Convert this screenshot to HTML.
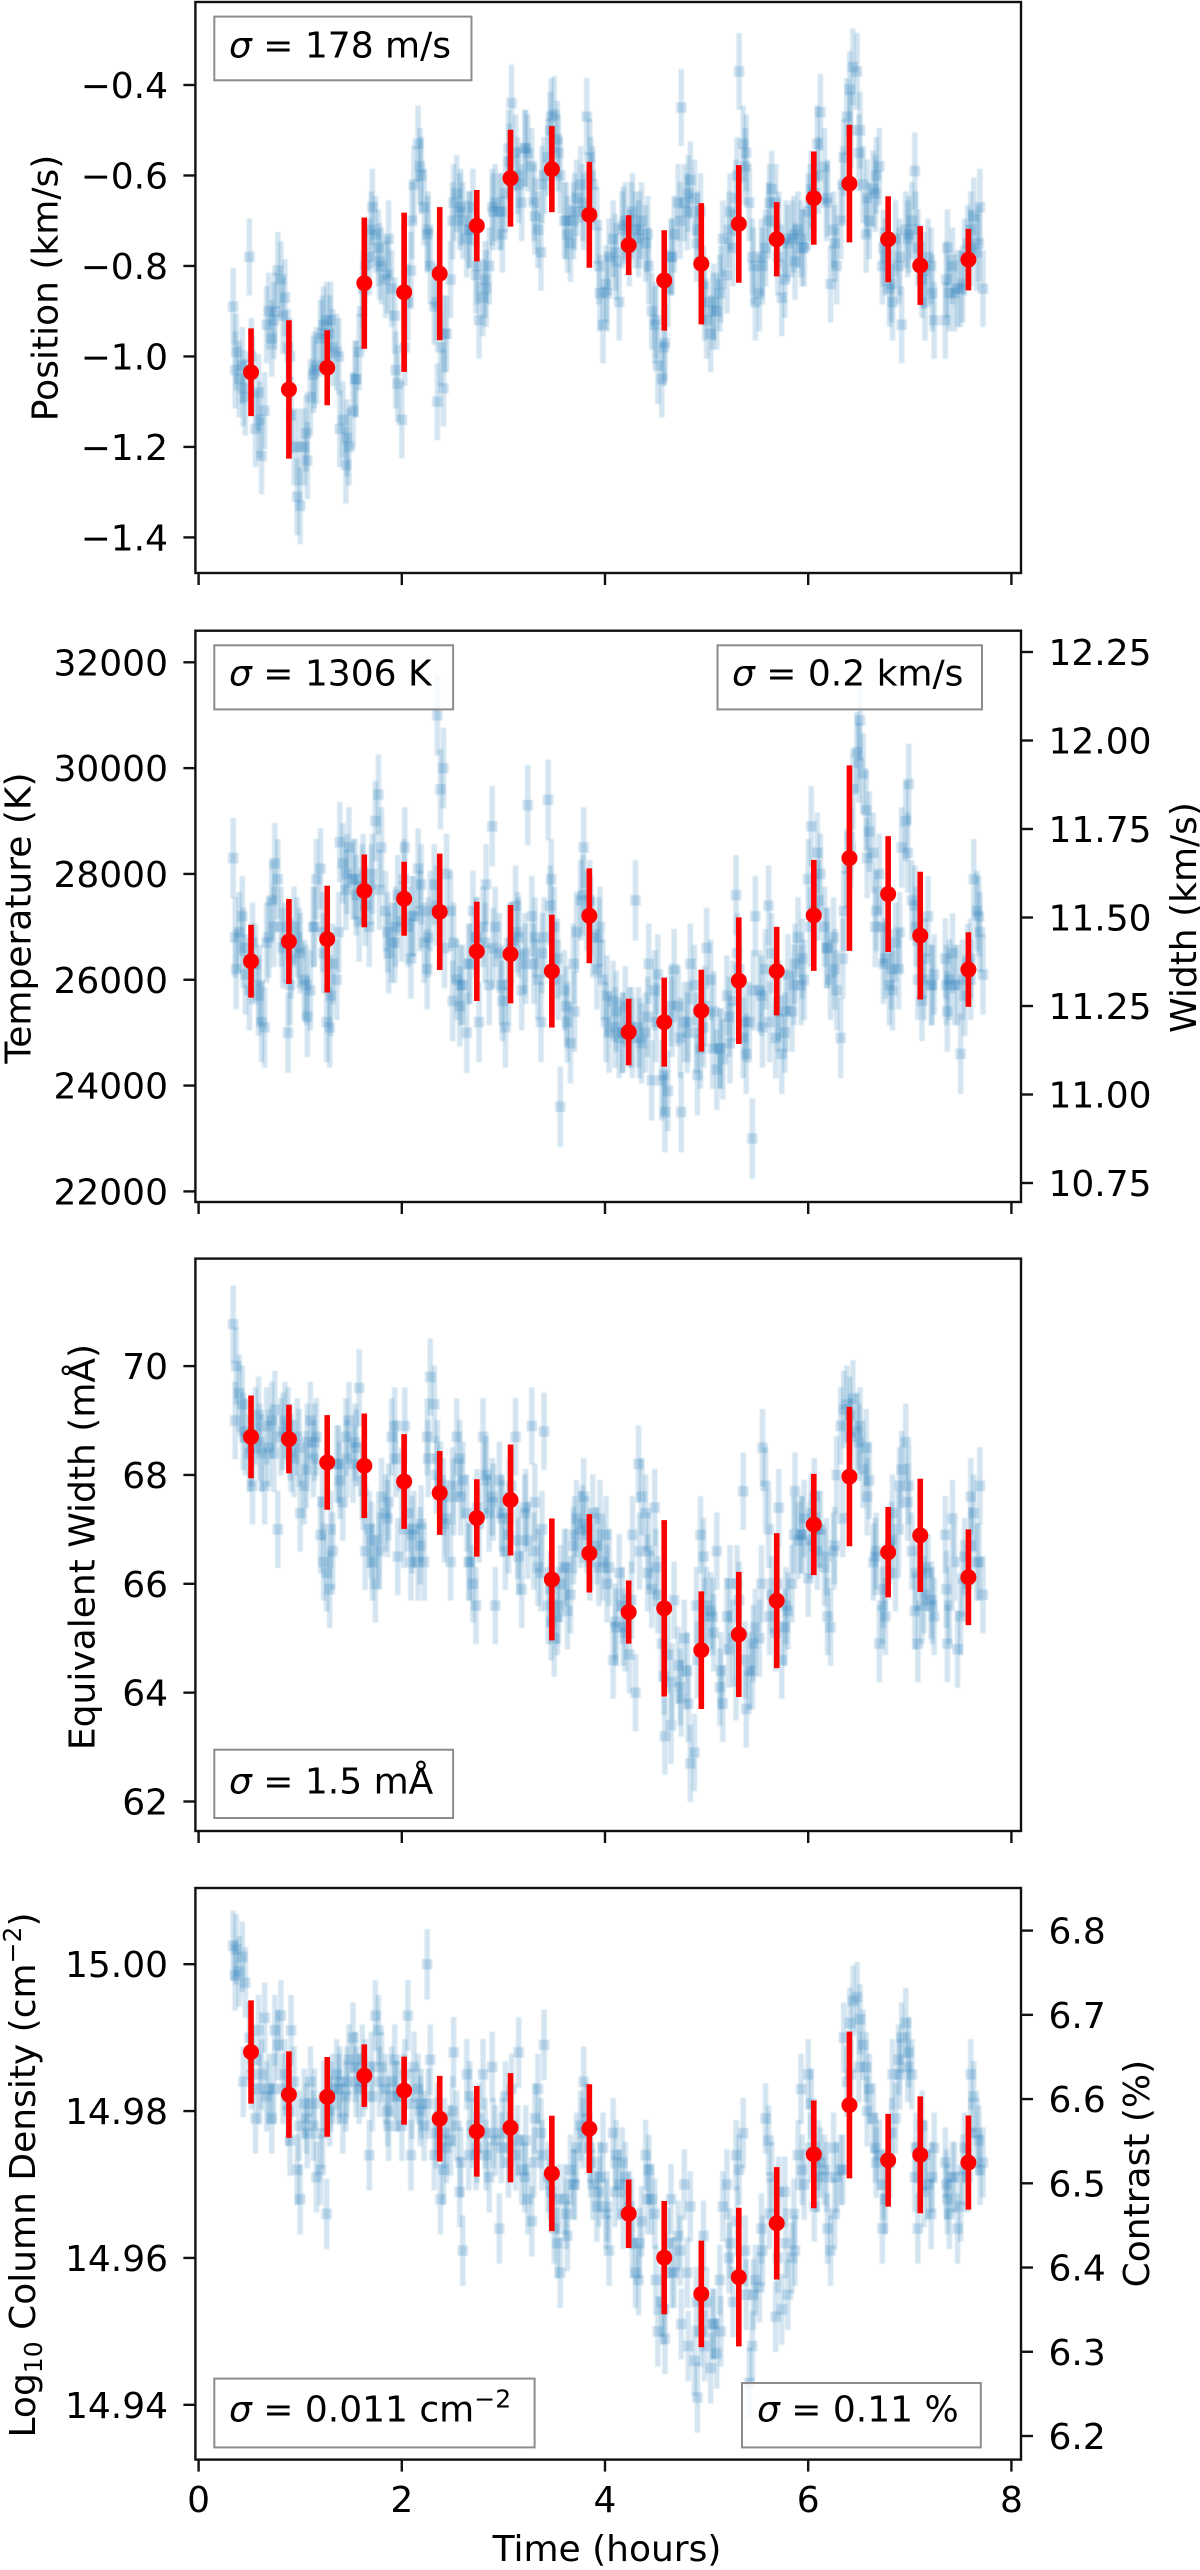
<!DOCTYPE html>
<html lang="en">
<head>
<meta charset="utf-8">
<title>Time series of line position, temperature, width, equivalent width, column density and contrast</title>
<style>
html,body{margin:0;padding:0;background:#fff;}
svg{display:block;font-family:"DejaVu Sans","Liberation Sans",sans-serif;fill:#000;}
text{font-size:36px;}
.legend-box{fill:rgba(255,255,255,.8);stroke:#8c8c8c;stroke-width:2;}
.sig{font-style:italic;}
.frame{fill:none;stroke:#111;stroke-width:2.4;}
</style>
</head>
<body>
<svg id="figure" width="1200" height="2570" viewBox="0 0 1200 2570" xmlns="http://www.w3.org/2000/svg">
<defs><filter id="soft" x="-5%" y="-5%" width="110%" height="110%"><feGaussianBlur stdDeviation="0.6"/></filter></defs>
<rect width="1200" height="2570" fill="#fff"/>

<g id="panel-position"></g>
<g id="panel-temperature"></g>
<g id="panel-ew"></g>
<g id="panel-density"></g>

<text transform="translate(57.5 288) rotate(-90)" text-anchor="middle">Position (km/s)</text>
<text transform="translate(30.6 918) rotate(-90)" text-anchor="middle">Temperature (K)</text>
<text transform="translate(1196 917.5) rotate(-90)" text-anchor="middle">Width (km/s)</text>
<text transform="translate(94.5 1547) rotate(-90)" text-anchor="middle">Equivalent Width (mÅ)</text>
<text transform="translate(35.2 2175) rotate(-90)" text-anchor="middle">Log<tspan dy="7" font-size="25">10</tspan><tspan dy="-7"> Column Density (cm</tspan><tspan dy="-14" font-size="25">−2</tspan><tspan dy="14">)</tspan></text>
<text transform="translate(1149 2173.6) rotate(-90)" text-anchor="middle">Contrast (%)</text>
<text x="607" y="2561" text-anchor="middle">Time (hours)</text>

<g id="legends">
<g><rect class="legend-box" x="214.3" y="16.6" width="257.2" height="63.7"/><text x="229" y="57.3"><tspan class="sig">σ</tspan> = 178 m/s</text></g>
<g><rect class="legend-box" x="214.3" y="645.3" width="238.8" height="64.1"/><text x="229" y="685.5"><tspan class="sig">σ</tspan> = 1306 K</text></g>
<g><rect class="legend-box" x="717.5" y="645.3" width="264.5" height="64.1"/><text x="732" y="685.5"><tspan class="sig">σ</tspan> = 0.2 km/s</text></g>
<g><rect class="legend-box" x="214.3" y="1749.7" width="238.8" height="68.3"/><text x="229" y="1793.6"><tspan class="sig">σ</tspan> = 1.5 mÅ</text></g>
<g><rect class="legend-box" x="214.3" y="2378.6" width="320.3" height="68.8"/><text x="229" y="2421.6"><tspan class="sig">σ</tspan> = 0.011 cm<tspan dy="-14" font-size="25">−2</tspan></text></g>
<g><rect class="legend-box" x="742" y="2383" width="238.8" height="64.4"/><text x="757" y="2421.6"><tspan class="sig">σ</tspan> = 0.11 %</text></g>
</g>
</svg>

<script>
const times = [
.34,.37,.40,.43,.46,.50,.53,.56,.59,.62,
.65,.69,.72,.75,.78,.81,.85,.88,.91,.94,
.97,1.00,1.04,1.07,1.10,1.13,1.16,1.20,1.23,1.26,
1.29,1.32,1.36,1.39,1.42,1.45,1.48,1.52,1.55,1.58,
1.61,1.64,1.68,1.71,1.74,1.77,1.80,1.84,1.87,1.90,
1.93,1.96,2.00,2.03,2.06,2.09,2.12,2.16,2.19,2.22,
2.25,2.28,2.32,2.35,2.38,2.41,2.44,2.48,2.51,2.54,
2.57,2.60,2.64,2.67,2.70,2.73,2.76,2.80,2.83,2.86,
2.89,2.92,2.96,2.99,3.02,3.05,3.08,3.12,3.15,3.18,
3.21,3.24,3.28,3.31,3.34,3.37,3.40,3.44,3.47,3.50,
3.53,3.56,3.60,3.63,3.66,3.69,3.72,3.76,3.79,3.82,
3.85,3.88,3.92,3.95,3.98,4.01,4.04,4.08,4.11,4.14,
4.17,4.20,4.24,4.27,4.30,4.33,4.36,4.40,4.43,4.46,
4.49,4.52,4.56,4.59,4.62,4.65,4.68,4.72,4.75,4.78,
4.81,4.84,4.88,4.91,4.94,4.97,5.00,5.04,5.07,5.10,
5.13,5.16,5.20,5.23,5.26,5.29,5.32,5.36,5.39,5.42,
5.45,5.48,5.52,5.55,5.58,5.61,5.64,5.68,5.71,5.74,
5.77,5.80,5.84,5.87,5.90,5.93,5.96,6.00,6.03,6.06,
6.09,6.12,6.16,6.19,6.22,6.25,6.28,6.32,6.35,6.38,
6.41,6.44,6.48,6.51,6.54,6.57,6.60,6.64,6.67,6.70,
6.73,6.76,6.80,6.83,6.86,6.89,6.92,6.96,6.99,7.02,
7.05,7.08,7.12,7.15,7.18,7.21,7.24,7.35,7.37,7.39,
7.42,7.47,7.50,7.54,7.57,7.60,7.63,7.66,7.69,7.72];

const positionValues = [
-0.89,-0.99,-1.05,-1.02,-1.09,-0.78,-1.04,-1.16,-1.08,-1.22,
-1.12,-0.90,-0.96,-0.90,-0.81,-0.83,-0.87,-0.98,-1.13,-1.20,
-1.31,-1.33,-1.20,-1.23,-1.09,-1.04,-1.02,-0.96,-0.93,-0.92,
-0.95,-0.98,-0.99,-1.16,-1.14,-1.24,-1.20,-1.12,-1.05,-0.99,
-0.90,-0.80,-0.78,-0.67,-0.73,-0.76,-0.80,-0.83,-0.74,-0.85,
-0.91,-1.06,-1.14,-0.98,-0.88,-0.81,-0.62,-0.53,-0.60,-0.67,
-0.73,-0.80,-0.89,-1.10,-0.98,-1.07,-0.95,-0.83,-0.66,-0.64,
-0.68,-0.70,-0.74,-0.72,-0.67,-0.82,-0.92,-0.87,-0.85,-0.80,
-0.67,-0.66,-0.68,-0.73,-0.64,-0.54,-0.44,-0.55,-0.62,-0.66,
-0.54,-0.55,-0.58,-0.69,-0.72,-0.77,-0.60,-0.56,-0.47,-0.465,
-0.52,-0.60,-0.70,-0.73,-0.75,-0.70,-0.65,-0.62,-0.68,-0.47,
-0.56,-0.62,-0.71,-0.86,-0.93,-0.84,-0.78,-0.74,-0.79,-0.88,
-0.72,-0.70,-0.76,-0.68,-0.72,-0.74,-0.70,-0.75,-0.80,-0.90,
-0.93,-1.02,-1.05,-0.97,-0.85,-0.78,-0.73,-0.66,-0.45,-0.66,
-0.68,-0.61,-0.65,-0.72,-0.68,-0.84,-0.92,-0.95,-0.88,-0.90,
-0.86,-0.74,-0.82,-0.68,-0.76,-0.65,-0.37,-0.53,-0.55,-0.66,
-0.78,-0.88,-0.86,-0.80,-0.76,-0.70,-0.63,-0.66,-0.72,-0.87,
-0.83,-0.75,-0.74,-0.79,-0.72,-0.74,-0.76,-0.68,-0.63,-0.64,
-0.53,-0.46,-0.58,-0.65,-0.84,-0.72,-0.80,-0.70,-0.56,-0.47,
-0.41,-0.36,-0.37,-0.50,-0.62,-0.73,-0.70,-0.63,-0.60,-0.58,
-0.80,-0.78,-0.85,-0.88,-0.74,-0.80,-0.93,-0.72,-0.73,-0.70,
-0.59,-0.76,-0.83,-0.88,-0.78,-0.80,-0.92,-0.92,-0.76,-0.86,
-0.80,-0.85,-0.85,-0.78,-0.75,-0.72,-0.69,-0.77,-0.67,-0.85];

const temperatureValues = [
28300,26200,26900,27200,26100,25800,26700,26300,25700,25200,
25100,26800,27500,28200,27900,27000,26700,25000,26400,27000,
26800,26500,26000,25300,25800,27000,27900,28100,26500,25200,
25100,26300,26000,28600,28200,27700,28500,27900,27600,27100,
27800,27400,27000,28000,29000,29500,28500,27300,26500,26700,
26700,27600,27100,28500,27000,26400,27200,28100,27800,26700,
26200,27300,27800,31000,29600,30000,28000,27300,26700,26000,
25500,25900,25000,26300,27300,26800,25200,27000,27800,25900,
28900,27000,26500,25600,25100,25900,26700,27400,26800,25800,
26500,29300,27200,26800,26000,25200,26800,29400,27900,27000,
26400,23600,25800,25200,24800,26300,26900,27500,28500,27300,
27500,26800,26200,27000,26000,25200,25000,25600,25400,24900,
25000,25500,25100,24900,27500,25100,24800,25000,26300,24100,
25800,26100,24100,23500,23900,25500,26200,25500,23500,25200,
25000,26300,25900,24200,24700,25100,26600,26000,25400,24300,
24700,24500,25700,24800,25600,27600,26200,24900,24600,25200,
23000,27200,25800,25100,26200,27400,26500,24900,25600,24600,
25000,26100,25400,26300,26800,25900,26000,27900,28900,27300,
28400,28000,27000,26600,26000,26800,25800,24900,27300,28100,
28700,29600,30300,30900,29900,29200,28800,28400,27300,28000,
27000,26400,25900,25800,26700,26200,28500,29000,29700,27500,
27400,26000,25600,26400,27200,25900,26100,26400,25400,26000,
26500,25900,24600,25700,26300,26000,27900,27300,26900,26100];

const equivalentWidthValues = [
70.77,70.0,69.5,69.3,68.7,68.4,67.8,68.9,69.1,68.4,
67.8,68.5,69.0,69.2,67.0,68.7,69.0,68.9,68.4,68.3,
68.7,67.3,67.8,68.6,69.0,68.3,68.7,66.9,66.4,66.2,
65.9,66.6,68.2,67.9,67.5,68.7,69.0,68.2,68.5,69.6,
67.9,66.6,67.0,66.4,66.0,66.8,67.6,67.3,67.5,68.7,
68.9,66.5,67.8,68.9,67.3,66.4,67.0,66.4,67.1,66.4,
68.7,69.8,69.3,68.3,67.9,67.6,67.2,66.4,67.6,68.7,
68.3,67.9,67.3,66.4,66.0,65.6,67.1,68.7,68.0,67.3,
67.6,65.6,67.9,67.2,66.6,66.9,67.8,68.7,66.5,65.9,
67.3,66.8,68.9,67.5,66.3,66.2,68.8,65.6,65.3,65.0,
65.4,66.0,66.3,65.5,65.8,66.7,67.2,67.0,67.6,66.9,
66.4,67.3,66.7,67.2,66.4,66.9,66.3,64.6,65.2,66.2,
65.6,65.1,64.7,66.9,64.0,68.2,67.6,67.3,66.6,65.9,
67.4,65.8,64.9,63.2,64.7,63.4,65.7,64.5,63.9,65.0,
64.4,62.7,62.9,64.6,66.9,66.5,65.6,65.5,65.1,66.6,
64.1,63.8,65.4,66.0,65.0,64.2,65.7,67.7,63.7,64.4,
64.4,65.2,65.0,68.5,67.8,67.0,65.8,65.1,67.4,64.6,
65.2,65.5,66.0,67.7,66.8,66.9,67.2,66.1,67.3,67.6,
66.6,67.0,66.3,65.4,65.2,66.6,68.0,68.9,69.2,69.3,
69.1,69.4,68.8,68.9,68.1,68.5,67.9,66.4,66.6,64.9,
65.6,65.4,66.7,67.3,66.2,67.0,68.1,68.6,67.8,66.6,
65.5,64.9,65.6,66.3,66.2,65.7,65.4,66.9,64.9,65.6,
67.2,64.8,65.4,66.5,66.0,67.6,67.3,66.4,67.8,65.8];

const densityValues = [
15.0025,15.002,14.999,15.001,14.9975,14.990,14.987,14.979,14.991,14.985,
14.9927,14.983,14.979,14.991,14.989,14.993,14.985,14.980,14.991,14.984,
14.972,14.968,14.981,14.977,14.984,14.978,14.971,14.972,14.982,14.966,
14.980,14.983,14.985,14.984,14.979,14.982,14.987,14.990,14.984,14.983,
14.987,14.985,14.974,14.982,14.993,14.991,14.986,14.983,14.978,14.984,
14.987,14.982,14.978,14.985,14.993,14.974,14.986,14.983,14.981,14.978,
15.000,14.987,14.974,14.979,14.968,14.972,14.975,14.976,14.988,14.978,
14.969,14.961,14.985,14.982,14.977,14.974,14.979,14.985,14.974,14.971,
14.986,14.976,14.964,14.977,14.982,14.973,14.983,14.974,14.988,14.972,
14.971,14.968,14.965,14.979,14.983,14.977,14.989,14.971,14.969,14.964,
14.962,14.958,14.968,14.963,14.972,14.970,14.975,14.978,14.984,14.979,
14.975,14.970,14.967,14.971,14.975,14.966,14.961,14.977,14.974,14.970,
14.973,14.971,14.967,14.962,14.958,14.957,14.965,14.974,14.972,14.968,
14.966,14.950,14.954,14.949,14.962,14.968,14.958,14.963,14.951,14.970,
14.958,14.967,14.946,14.941,14.950,14.963,14.954,14.945,14.951,14.947,
14.957,14.967,14.970,14.962,14.954,14.974,14.972,14.977,14.955,14.943,
14.948,14.957,14.956,14.961,14.979,14.976,14.971,14.952,14.969,14.953,
14.969,14.955,14.960,14.961,14.974,14.983,14.970,14.985,14.981,14.967,
14.971,14.973,14.972,14.964,14.961,14.975,14.971,14.972,14.990,14.984,
14.992,14.995,14.9955,14.9925,14.989,14.986,14.983,14.979,14.973,14.974,
14.964,14.968,14.973,14.985,14.979,14.987,14.990,14.992,14.988,14.985,
14.971,14.964,14.978,14.974,14.970,14.966,14.975,14.973,14.968,14.966,
14.971,14.964,14.967,14.975,14.971,14.985,14.982,14.977,14.972,14.973];

const extraTimes = [
.36,.44,.52,.60,.67,.74,.83,.90,.99,1.06,
1.14,1.22,1.30,1.38,1.46,1.54,1.62,1.70,1.78,1.86,
1.94,2.02,2.10,2.18,2.26,2.34,2.42,2.50,2.58,2.66,
2.74,2.82,2.90,2.98,3.06,3.14,3.22,3.30,3.38,3.46,
3.54,3.62,3.70,3.78,3.86,3.94,4.02,4.10,4.18,4.26,
4.34,4.42,4.50,4.58,4.66,4.74,4.82,4.90,4.98,5.06,
5.14,5.22,5.30,5.38,5.46,5.54,5.62,5.70,5.78,5.86,
5.94,6.02,6.10,6.18,6.26,6.34,6.42,6.50,6.58,6.66,
6.74,6.82,6.90,6.98,7.06,7.14,7.22,7.36,7.44,7.52,
7.60,7.68];

const extraPositionValues = [
-1.03,-1.07,-1.0,-1.14,-0.93,-0.92,-0.91,-1.0,-1.2,-1.17,
-1.03,-0.95,-0.92,-1.0,-1.18,-1.05,-0.85,-0.72,-0.79,-0.82,
-1.03,-0.86,-0.7,-0.58,-0.72,-0.88,-0.95,-0.70,-0.67,-0.72,
-0.80,-0.83,-0.68,-0.68,-0.57,-0.6,-0.54,-0.66,-0.62,-0.5,
-0.55,-0.70,-0.68,-0.66,-0.6,-0.8,-0.86,-0.77,-0.71,-0.70,
-0.72,-0.73,-0.92,-0.98,-0.78,-0.7,-0.64,-0.75,-0.88,-0.9,
-0.84,-0.72,-0.6,-0.58,-0.8,-0.78,-0.66,-0.78,-0.74,-0.73,
-0.76,-0.66,-0.6,-0.66,-0.75,-0.62,-0.5,-0.55,-0.65,-0.64,
-0.76,-0.84,-0.78,-0.74,-0.72,-0.81,-0.86,-0.83,-0.86,-0.84,
-0.76,-0.75];

const extraTemperatureValues = [
26800,26600,26300,25900,26700,27000,26600,25900,26600,25900,
27000,26900,25700,26900,28000,27900,28000,27800,27700,26900,
27000,27900,27200,27300,26800,27400,26600,25600,25900,26300,
26800,26700,26600,25900,26700,26900,26300,26300,26500,27400,
26000,25500,25400,27600,27200,26800,25700,25100,25000,25100,
24900,25300,25200,24200,25300,24900,25200,25000,25500,24700,
24700,25300,26500,25200,25800,25700,25200,25400,25400,25900,
26400,27000,27500,26600,26200,26400,28500,30100,28300,27000,
26300,26200,26900,28400,27000,26000,25900,25900,25900,26000,
26400,27200];

const extraEquivalentWidthValues = [
69.0,68.8,68.5,68.6,68.9,68.4,68.8,68.6,68.5,68.1,
68.6,67.5,67.0,68.2,68.3,68.6,67.7,66.8,66.6,67.2,
68.3,67.0,66.9,66.7,68.3,68.0,67.1,67.8,67.6,66.4,
67.4,67.9,67.5,67.3,67.6,66.8,67.4,66.6,67.0,65.9,
65.6,66.3,66.9,67.1,66.6,66.3,66.0,65.3,65.2,65.7,
66.6,66.2,66.3,64.3,64.2,64.1,63.8,65.6,65.4,65.4,
64.4,64.8,66.0,64.6,64.9,66.0,65.4,66.0,65.6,66.9,
66.9,66.8,67.0,66.5,66.7,67.2,68.7,68.6,67.6,66.5,
65.9,66.8,67.8,67.5,66.2,65.8,65.6,65.9,66.4,66.1,
66.7,66.4];

const extraDensityValues = [
14.9985,14.984,14.985,14.983,14.982,14.983,14.983,14.976,14.978,14.979,
14.981,14.977,14.982,14.983,14.984,14.986,14.984,14.986,14.984,14.980,
14.982,14.983,14.981,14.980,14.981,14.977,14.977,14.980,14.973,14.974,
14.975,14.977,14.977,14.975,14.975,14.976,14.976,14.973,14.974,14.970,
14.968,14.966,14.970,14.977,14.973,14.969,14.967,14.969,14.966,14.966,
14.962,14.968,14.957,14.953,14.958,14.961,14.948,14.954,14.948,14.951,
14.950,14.960,14.965,14.961,14.955,14.964,14.966,14.960,14.962,14.966,
14.972,14.975,14.974,14.971,14.966,14.972,14.985,14.986,14.980,14.975,
14.970,14.977,14.985,14.986,14.975,14.969,14.971,14.970,14.971,14.972,
14.977,14.976];

const positionPointError = 0.085;
const temperaturePointError = 760;
const equivalentWidthPointError = 0.71;
const densityPointError = 0.0048;

const binTimes = [0.516,0.889,1.266,1.631,2.023,2.373,2.738,3.070,3.477,3.846,4.233,4.583,4.948,5.317,5.690,6.055,6.406,6.787,7.103,7.577];

const binPosition = [-1.035,-1.073,-1.025,-0.838,-0.858,-0.817,-0.711,-0.606,-0.586,-0.687,-0.754,-0.832,-0.795,-0.707,-0.741,-0.650,-0.618,-0.741,-0.799,-0.786];
const binPositionError = [0.097,0.153,0.083,0.145,0.176,0.147,0.079,0.107,0.095,0.117,0.066,0.111,0.134,0.130,0.082,0.103,0.130,0.095,0.087,0.068];

const binTemperature = [26350,26723,26768,27680,27531,27284,26537,26484,26163,27209,25012,25199,25415,25983,26163,27217,28300,27620,26835,26193];
const binTemperatureError = [688,803,1009,688,699,1099,938,930,1065,897,628,841,774,1196,837,1050,1753,1095,1207,706];

const binEquivalentWidth = [68.70,68.66,68.23,68.17,67.88,67.67,67.21,67.54,66.08,66.56,65.48,65.55,64.78,65.07,65.69,67.09,67.97,66.58,66.89,66.12];
const binEquivalentWidthError = [0.76,0.63,0.87,0.96,0.87,0.77,0.71,1.02,1.12,0.72,0.58,1.62,1.08,1.15,1.24,0.93,1.28,0.83,1.04,0.88];

const binDensity = [14.98804,14.98224,14.98193,14.98483,14.98279,14.97897,14.97724,14.97774,14.97151,14.97761,14.96602,14.96004,14.95510,14.95739,14.96472,14.97410,14.98082,14.97330,14.97404,14.97299];
const binDensityError = [0.00703,0.00589,0.00543,0.00426,0.00463,0.00583,0.00617,0.00743,0.00786,0.00604,0.00466,0.00771,0.00725,0.00944,0.00765,0.00734,0.00999,0.00632,0.00796,0.00641];

const xTickValues = [0,2,4,6,8];
const xTickLabels = ["0","2","4","6","8"];
const positionTicks = [-0.4,-0.6,-0.8,-1.0,-1.2,-1.4];
const positionTickLabels = ["−0.4","−0.6","−0.8","−1.0","−1.2","−1.4"];
const temperatureTicks = [32000,30000,28000,26000,24000,22000];
const temperatureTickLabels = ["32000","30000","28000","26000","24000","22000"];
const widthTicks = [12.25,12.00,11.75,11.50,11.25,11.00,10.75];
const widthTickLabels = ["12.25","12.00","11.75","11.50","11.25","11.00","10.75"];
const equivalentWidthTicks = [70,68,66,64,62];
const equivalentWidthTickLabels = ["70","68","66","64","62"];
const densityTicks = [15.00,14.98,14.96,14.94];
const densityTickLabels = ["15.00","14.98","14.96","14.94"];
const contrastTicks = [6.8,6.7,6.6,6.5,6.4,6.3,6.2];
const contrastTickLabels = ["6.8","6.7","6.6","6.5","6.4","6.3","6.2"];

const SVGNS = "http://www.w3.org/2000/svg";
function xAxis(h){ return 198.6 + 101.6*h; }
function linearAxis(v0,p0,v1,p1){ return function(v){ return p0 + (v-v0)*(p1-p0)/(v1-v0); }; }

function drawFrame(host,top,bottom,showXLabels){
  const frame = document.createElementNS(SVGNS,"rect");
  frame.setAttribute("class","frame");
  frame.setAttribute("x",195.4);
  frame.setAttribute("y",top);
  frame.setAttribute("width",825.6);
  frame.setAttribute("height",bottom-top);
  
  
  host.appendChild(frame);
  xTickValues.forEach(function(v,i){
    const tick = document.createElementNS(SVGNS,"line");
    tick.setAttribute("x1",xAxis(v));
    tick.setAttribute("x2",xAxis(v));
    tick.setAttribute("y1",bottom);
    tick.setAttribute("y2",bottom+12);
    tick.setAttribute("stroke","#111");
    tick.setAttribute("stroke-width",2.4);
    
    
    host.appendChild(tick);
    if(showXLabels){
      const label = document.createElementNS(SVGNS,"text");
      label.setAttribute("x",xAxis(v));
      label.setAttribute("y",bottom+52.5);
      label.setAttribute("text-anchor","middle");
      label.textContent = xTickLabels[i];
      
      
      host.appendChild(label);
    }
  });
}

function drawYAxis(host,ticks,labels,scale,side){
  ticks.forEach(function(v,i){
    const y = scale(v);
    const tick = document.createElementNS(SVGNS,"line");
    tick.setAttribute("x1",side==="left"?183.4:1021);
    tick.setAttribute("x2",side==="left"?195.4:1033);
    tick.setAttribute("y1",y);
    tick.setAttribute("y2",y);
    tick.setAttribute("stroke","#111");
    tick.setAttribute("stroke-width",2.4);
    
    
    host.appendChild(tick);
    const label = document.createElementNS(SVGNS,"text");
    label.setAttribute("x",side==="left"?168:1048.5);
    label.setAttribute("y",y+13);
    label.setAttribute("text-anchor",side==="left"?"end":"start");
    label.textContent = labels[i];
    
    
    host.appendChild(label);
  });
}

function drawSeries(host,ts,values,pointError,scale){
  const group = document.createElementNS(SVGNS,"g");
  
  
  group.setAttribute("filter","url(#soft)");
  ts.forEach(function(t,i){
    const x = xAxis(t);
    const bar = document.createElementNS(SVGNS,"line");
    bar.setAttribute("x1",x);
    bar.setAttribute("x2",x);
    bar.setAttribute("y1",scale(values[i]+pointError));
    bar.setAttribute("y2",scale(values[i]-pointError));
    bar.setAttribute("stroke","#1f77b4");
    bar.setAttribute("stroke-opacity",0.2);
    bar.setAttribute("stroke-width",5.4);
    
    
    group.appendChild(bar);
    const marker = document.createElementNS(SVGNS,"rect");
    marker.setAttribute("x",x-5.2);
    marker.setAttribute("y",scale(values[i])-5.2);
    marker.setAttribute("width",10.4);
    marker.setAttribute("height",10.4);
    marker.setAttribute("fill","#1f77b4");
    marker.setAttribute("fill-opacity",0.22);
    
    
    group.appendChild(marker);
  });
  host.appendChild(group);
}

function drawBins(host,ts,values,errors,scale){
  const group = document.createElementNS(SVGNS,"g");
  
  
  ts.forEach(function(t,i){
    const x = xAxis(t);
    const bar = document.createElementNS(SVGNS,"line");
    bar.setAttribute("x1",x);
    bar.setAttribute("x2",x);
    bar.setAttribute("y1",scale(values[i]+errors[i]));
    bar.setAttribute("y2",scale(values[i]-errors[i]));
    bar.setAttribute("stroke","#f00");
    bar.setAttribute("stroke-width",5.6);
    
    
    group.appendChild(bar);
    const dot = document.createElementNS(SVGNS,"circle");
    dot.setAttribute("cx",x);
    dot.setAttribute("cy",scale(values[i]));
    dot.setAttribute("r",8);
    dot.setAttribute("fill","#f00");
    
    
    group.appendChild(dot);
  });
  host.appendChild(group);
}

const positionAxis = linearAxis(-0.4,85,-1.4,537.4);
const temperatureAxis = linearAxis(32000,662.3,22000,1191.4);
const widthAxis = linearAxis(12.25,652,10.75,1183);
const equivalentWidthAxis = linearAxis(70,1366.1,62,1801.5);
const densityAxis = linearAxis(15.00,1964.2,14.94,2404.8);
const contrastAxis = linearAxis(6.8,1930.6,6.2,2436);

const panelPosition = document.getElementById("panel-position");
drawSeries(panelPosition,times,positionValues,positionPointError,positionAxis);
drawSeries(panelPosition,extraTimes,extraPositionValues,positionPointError,positionAxis);
drawBins(panelPosition,binTimes,binPosition,binPositionError,positionAxis);
drawFrame(panelPosition,2,573,false);
drawYAxis(panelPosition,positionTicks,positionTickLabels,positionAxis,"left");

const panelTemperature = document.getElementById("panel-temperature");
drawSeries(panelTemperature,times,temperatureValues,temperaturePointError,temperatureAxis);
drawSeries(panelTemperature,extraTimes,extraTemperatureValues,temperaturePointError,temperatureAxis);
drawBins(panelTemperature,binTimes,binTemperature,binTemperatureError,temperatureAxis);
drawFrame(panelTemperature,630.7,1202,false);
drawYAxis(panelTemperature,temperatureTicks,temperatureTickLabels,temperatureAxis,"left");
drawYAxis(panelTemperature,widthTicks,widthTickLabels,widthAxis,"right");

const panelEw = document.getElementById("panel-ew");
drawSeries(panelEw,times,equivalentWidthValues,equivalentWidthPointError,equivalentWidthAxis);
drawSeries(panelEw,extraTimes,extraEquivalentWidthValues,equivalentWidthPointError,equivalentWidthAxis);
drawBins(panelEw,binTimes,binEquivalentWidth,binEquivalentWidthError,equivalentWidthAxis);
drawFrame(panelEw,1258.6,1831,false);
drawYAxis(panelEw,equivalentWidthTicks,equivalentWidthTickLabels,equivalentWidthAxis,"left");

const panelDensity = document.getElementById("panel-density");
drawSeries(panelDensity,times,densityValues,densityPointError,densityAxis);
drawSeries(panelDensity,extraTimes,extraDensityValues,densityPointError,densityAxis);
drawBins(panelDensity,binTimes,binDensity,binDensityError,densityAxis);
drawFrame(panelDensity,1888,2459.6,true);
drawYAxis(panelDensity,densityTicks,densityTickLabels,densityAxis,"left");
drawYAxis(panelDensity,contrastTicks,contrastTickLabels,contrastAxis,"right");
</script>
</body>
</html>
